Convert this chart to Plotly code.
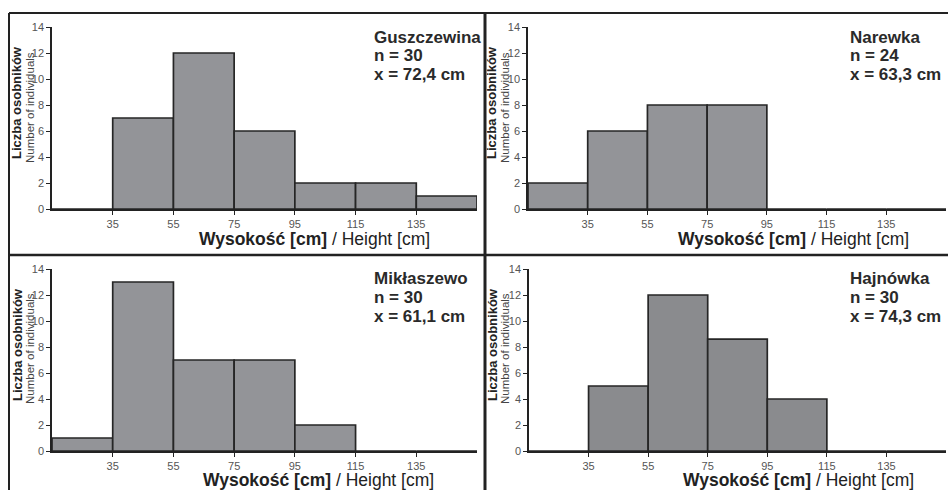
import plotly.graph_objects as go

W, H = 948, 490

# ---- data ----
bin_centers = [25, 45, 65, 85, 105, 125, 145]
tick_labels = [35, 55, 75, 95, 115, 135]
y_ticks = [0, 2, 4, 6, 8, 10, 12, 14]

guszczewina = [0, 7, 12, 6, 2, 2, 1]
narewka = [2, 6, 8, 8, 0, 0, 0]
miklaszewo = [1, 13, 7, 7, 2, 0, 0]
hajnowka = [0, 5, 12, 8.6, 4, 0, 0]

sites = ["Guszczewina", "Narewka", "Mikłaszewo", "Hajnówka"]
n_values = [30, 24, 30, 30]
mean_values = ["72,4", "63,3", "61,1", "74,3"]
series = [guszczewina, narewka, miklaszewo, hajnowka]

FONT = "Liberation Sans, Arial, sans-serif"

def px(x):
    return x / W

def py(y):
    return 1 - y / H

# panel geometry in pixels: (x0, x1, y_top(14), y_bottom(0))
panels = [
    (52, 477, 27, 209),
    (528, 946, 27, 209),
    (52, 477, 269, 451),
    (529, 946, 269, 451),
]
bar_colors = ["#939498", "#939498", "#939498", "#8a8b8e"]

fig = go.Figure()
layout = dict(
    width=W, height=H, autosize=False, margin=dict(l=0, r=0, t=0, b=0, pad=0),
    paper_bgcolor="white", plot_bgcolor="white", showlegend=False,
    font=dict(family=FONT),
)
annotations = []

for i, (vals, (x0, x1, yt, yb)) in enumerate(zip(series, panels)):
    k = "" if i == 0 else str(i + 1)
    fig.add_trace(go.Bar(
        x=bin_centers, y=vals, width=20,
        marker=dict(color=bar_colors[i], line=dict(color="#262626", width=1.7)),
        xaxis="x" + k, yaxis="y" + k, hoverinfo="x+y",
    ))
    layout["xaxis" + k] = dict(
        domain=[px(x0), px(x1)], range=[15, 155], anchor="y" + k,
        tickvals=tick_labels, ticks="outside", ticklen=4, tickwidth=1,
        tickcolor="#222", showline=True, linecolor="#222", linewidth=1.5,
        showgrid=False, zeroline=False, automargin=False,
        tickfont=dict(size=11, color="#555555", family=FONT),
    )
    layout["yaxis" + k] = dict(
        domain=[py(yb), py(yt)], range=[0, 14], anchor="x" + k,
        tickvals=y_ticks, ticks="outside", ticklen=4, tickwidth=1,
        tickcolor="#222", showline=True, linecolor="#222", linewidth=1.5,
        showgrid=False, zeroline=False, automargin=False,
        tickfont=dict(size=11, color="#555555", family=FONT),
    )

    # statistics text, one line per annotation
    tx = 372 if i % 2 == 0 else 848
    line_ys = [37, 55, 74] if i < 2 else [278, 297, 316]
    lines = [sites[i], f"n = {n_values[i]}", f"x = {mean_values[i]} cm"]
    for ly, txt in zip(line_ys, lines):
        annotations.append(dict(
            xref="paper", yref="paper", x=px(tx), y=py(ly),
            xanchor="left", yanchor="middle", align="left", showarrow=False,
            text=f"<b>{txt}</b>",
            font=dict(size=17, color="#2a2a2a", family=FONT),
        ))

    # x title
    xc = [314, 793, 318, 798][i]
    xy = [239, 239, 480, 480][i]
    annotations.append(dict(
        xref="paper", yref="paper", x=px(xc), y=py(xy),
        xanchor="center", yanchor="middle", showarrow=False,
        text="<b>Wysokość [cm]</b> / Height [cm]",
        font=dict(size=17.5, color="#222222", family=FONT),
    ))

    # y titles
    bx = 17 if i % 2 == 0 else 492
    rx = 30 if i % 2 == 0 else 505
    byc = 103 if i < 2 else 345
    ryc = 108 if i < 2 else 349
    annotations.append(dict(
        xref="paper", yref="paper", x=px(bx), y=py(byc),
        xanchor="center", yanchor="middle", showarrow=False, textangle=-90,
        text="<b>Liczba osobników</b>",
        font=dict(size=13, color="#222222", family=FONT),
    ))
    annotations.append(dict(
        xref="paper", yref="paper", x=px(rx), y=py(ryc),
        xanchor="center", yanchor="middle", showarrow=False, textangle=-90,
        text="Number of individuals",
        font=dict(size=11.5, color="#444444", family=FONT),
    ))

layout["annotations"] = annotations

# frame lines
line_col = "#222222"
shapes = [
    dict(type="line", xref="paper", yref="paper", x0=px(9), x1=px(948), y0=py(13), y1=py(13),
         line=dict(color=line_col, width=2)),
    dict(type="line", xref="paper", yref="paper", x0=px(9), x1=px(9), y0=py(13), y1=py(490),
         line=dict(color=line_col, width=2)),
    dict(type="line", xref="paper", yref="paper", x0=px(485), x1=px(485), y0=py(13), y1=py(490),
         line=dict(color=line_col, width=3)),
    dict(type="line", xref="paper", yref="paper", x0=px(9), x1=px(948), y0=py(255), y1=py(255),
         line=dict(color=line_col, width=2.5)),
]
layout["shapes"] = shapes

fig.update_layout(**layout)

post_js = (
    "document.documentElement.style.margin='0';"
    "document.documentElement.style.overflow='hidden';"
    "document.body.style.margin='0';document.body.style.padding='0';"
    "document.body.style.overflow='hidden';"
    "var d=document.getElementById('{plot_id}');"
    "d.style.position='fixed';d.style.left='0px';d.style.top='0px';"
)
fig.write_html("out.html", config={"responsive": False, "displayModeBar": False},
               default_width="948px", default_height="490px", post_script=post_js)
